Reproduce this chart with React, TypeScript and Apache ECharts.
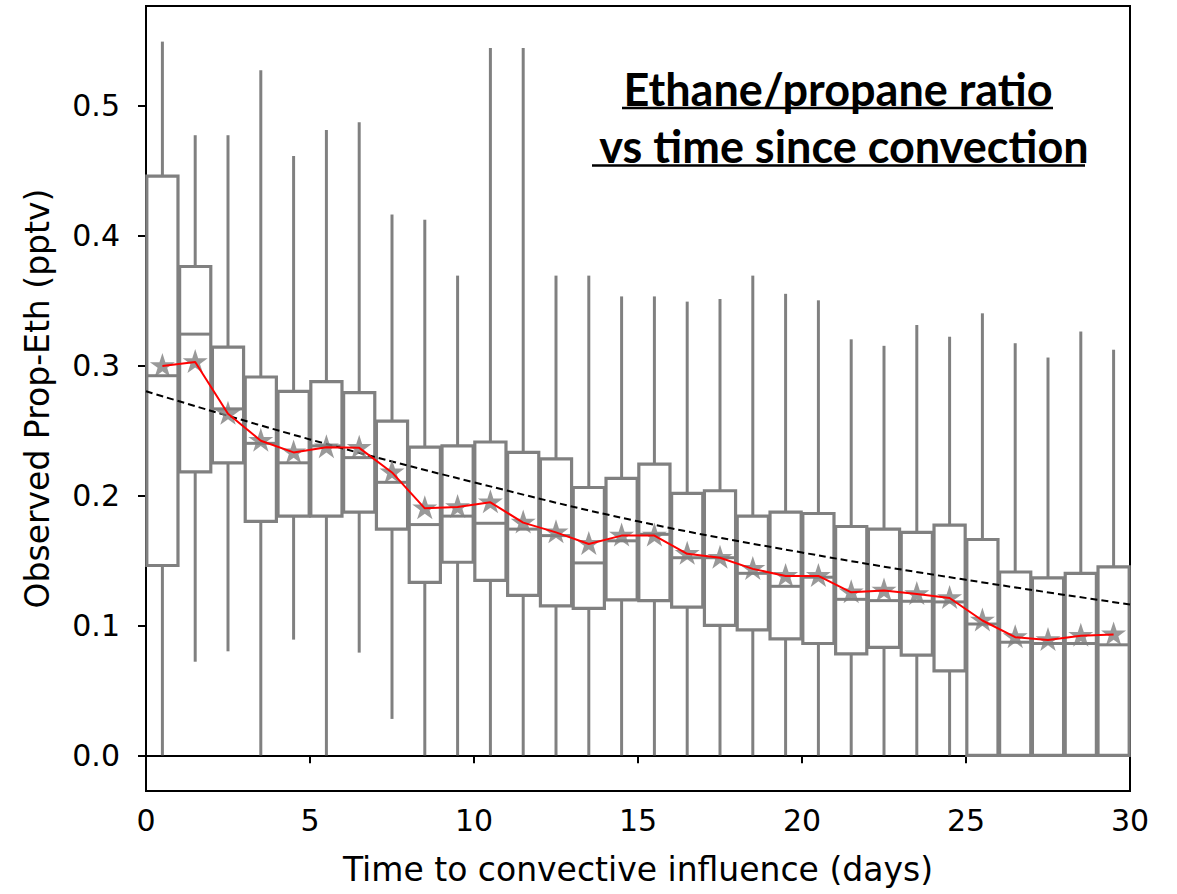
import React, { useEffect, useRef } from "react";
import * as echarts from "echarts";

// ---- data ----
const days = [0.5, 1.5, 2.5, 3.5, 4.5, 5.5, 6.5, 7.5, 8.5, 9.5, 10.5, 11.5, 12.5, 13.5, 14.5, 15.5, 16.5, 17.5, 18.5, 19.5, 20.5, 21.5, 22.5, 23.5, 24.5, 25.5, 26.5, 27.5, 28.5, 29.5];
const whiskerLow = [0, 0.072, 0.08, 0, 0.089, 0, 0.079, 0.028, 0, 0, 0, 0, 0, 0, 0, 0, 0, 0, 0, 0, 0, 0, 0, 0, 0, 0, 0, 0, 0, 0];
const q1 = [0.146, 0.218, 0.225, 0.18, 0.184, 0.184, 0.187, 0.174, 0.133, 0.1485, 0.1345, 0.123, 0.115, 0.113, 0.1195, 0.119, 0.114, 0.1, 0.0965, 0.0895, 0.086, 0.078, 0.083, 0.077, 0.065, 0, 0, 0, 0, 0];
const median = [0.292, 0.324, 0.2665, 0.24, 0.225, 0.238, 0.229, 0.21, 0.1775, 0.184, 0.1785, 0.174, 0.169, 0.148, 0.165, 0.17, 0.152, 0.152, 0.14, 0.13, 0.137, 0.12, 0.119, 0.1185, 0.118, 0.101, 0.087, 0.086, 0.086, 0.085];
const q3 = [0.4455, 0.376, 0.314, 0.291, 0.28, 0.2875, 0.279, 0.257, 0.237, 0.238, 0.241, 0.233, 0.228, 0.206, 0.213, 0.224, 0.2015, 0.2035, 0.184, 0.187, 0.186, 0.176, 0.174, 0.1715, 0.177, 0.166, 0.141, 0.1365, 0.14, 0.145];
const whiskerHigh = [0.549, 0.477, 0.477, 0.527, 0.461, 0.481, 0.487, 0.416, 0.412, 0.369, 0.544, 0.544, 0.369, 0.369, 0.353, 0.353, 0.349, 0.351, 0.369, 0.355, 0.35, 0.32, 0.315, 0.331, 0.322, 0.34, 0.317, 0.306, 0.326, 0.312];
const mean = [0.2995, 0.3025, 0.2627, 0.242, 0.233, 0.237, 0.2365, 0.2176, 0.19, 0.191, 0.1946, 0.179, 0.1715, 0.1626, 0.169, 0.169, 0.155, 0.152, 0.1434, 0.138, 0.138, 0.1254, 0.1267, 0.124, 0.121, 0.1037, 0.0909, 0.0887, 0.092, 0.093];
const fitDays = [0, 5, 10, 15, 20, 25, 30];
const fitValues = [0.28, 0.243, 0.21, 0.18, 0.156, 0.135, 0.116];
const yTicks = [0, 0.1, 0.2, 0.3, 0.4, 0.5];
const titleLine1 = "Ethane/propane ratio";
const titleLine2 = "vs time since convection";
const xName = "Time to convective influence (days)";
const yName = "Observed Prop-Eth (pptv)";

const GRAY = "#808080";
const BOX_W = 0.95;
const STAR = "path://M100,0 L122.45,69.1 L195.1,69.1 L136.3,111.8 L158.8,180.9 L100,138.2 L41.2,180.9 L63.7,111.8 L4.9,69.1 L77.55,69.1 Z";
const FONT = "DejaVu Sans";

export default function App() {
  const ref = useRef<HTMLDivElement>(null);
  useEffect(() => {
    if (!ref.current) return;
    const chart = echarts.init(ref.current, null, { renderer: "svg" });
    const boxData = days.map((d, i) => [d, whiskerLow[i], q1[i], median[i], q3[i], whiskerHigh[i]]);
    const meanData = days.map((d, i) => [d, mean[i]]);
    const fitData = fitDays.map((d, i) => [d, fitValues[i]]);
    const lineStyle = { stroke: GRAY, lineWidth: 3, fill: "none" };
    chart.setOption({
      animation: false,
      backgroundColor: "#ffffff",
      grid: { left: 146, right: 47, top: 6, bottom: 103, show: true, borderColor: "#000", borderWidth: 2, backgroundColor: "transparent" },
      xAxis: {
        type: "value", min: 0, max: 30, interval: 5,
        axisLine: { show: true, lineStyle: { color: "#000", width: 2 } },
        axisTick: { show: true, length: 8, lineStyle: { color: "#000", width: 2 } },
        axisLabel: { fontFamily: FONT, fontSize: 30, color: "#000", margin: 14 },
        splitLine: { show: false },
        name: xName, nameLocation: "middle", nameGap: 62,
        nameTextStyle: { fontFamily: FONT, fontSize: 33, color: "#000" },
      },
      yAxis: {
        type: "value", min: -0.02745, max: 0.5764,
        axisLine: { show: true, lineStyle: { color: "#000", width: 2 } },
        axisTick: { show: true, length: 8, lineStyle: { color: "#000", width: 2 }, customValues: yTicks },
        axisLabel: { fontFamily: FONT, fontSize: 30, color: "#000", margin: 26, customValues: yTicks, formatter: (v: number) => v.toFixed(1) },
        splitLine: { show: false },
        name: yName, nameLocation: "middle", nameGap: 92,
        nameTextStyle: { fontFamily: FONT, fontSize: 33, color: "#000" },
      },
      series: [
        {
          type: "custom",
          z: 2,
          data: boxData,
          encode: { x: 0, y: [1, 2, 3, 4, 5] },
          renderItem: (params: any, api: any) => {
            const x = api.value(0);
            const lo = api.coord([x, api.value(1)]);
            const b1 = api.coord([x, api.value(2)]);
            const md = api.coord([x, api.value(3)]);
            const b3 = api.coord([x, api.value(4)]);
            const hi = api.coord([x, api.value(5)]);
            const w = api.size([BOX_W, 0])[0];
            const children: any[] = [
              { type: "line", shape: { x1: hi[0], y1: hi[1], x2: b3[0], y2: b3[1] }, style: lineStyle },
              { type: "line", shape: { x1: b1[0], y1: b1[1], x2: lo[0], y2: lo[1] }, style: lineStyle },
              { type: "rect", shape: { x: b3[0] - w / 2, y: b3[1], width: w, height: b1[1] - b3[1] }, style: { stroke: GRAY, lineWidth: 3.2, fill: "#ffffff" } },
              { type: "line", shape: { x1: md[0] - w / 2, y1: md[1], x2: md[0] + w / 2, y2: md[1] }, style: lineStyle },
            ];
            return { type: "group", children };
          },
        },
        {
          type: "line",
          z: 3,
          data: fitData,
          smooth: 0.4,
          symbol: "none",
          lineStyle: { color: "#000", width: 2, type: [7, 4] },
        },
        {
          type: "scatter",
          z: 4,
          data: meanData,
          symbol: STAR,
          symbolSize: [25, 24],
          symbolOffset: [0, -1],
          itemStyle: { color: GRAY },
        },
        {
          type: "line",
          z: 5,
          data: meanData,
          symbol: "none",
          lineStyle: { color: "#ff0000", width: 2 },
        },
      ],
      graphic: [
        { type: "text", x: 838, y: 89, z: 10, style: { text: titleLine1, font: "bold 45px Lato", fill: "#000", align: "center", verticalAlign: "middle" } },
        { type: "text", x: 844, y: 146, z: 10, style: { text: titleLine2, font: "bold 45px Lato", fill: "#000", align: "center", verticalAlign: "middle" } },
        { type: "line", z: 10, shape: { x1: 622, y1: 108, x2: 1053, y2: 108 }, style: { stroke: "#000", lineWidth: 2.5 } },
        { type: "line", z: 10, shape: { x1: 592, y1: 165.5, x2: 1085, y2: 165.5 }, style: { stroke: "#000", lineWidth: 2.5 } },
      ],
    });
    return () => chart.dispose();
  }, []);
  return <div ref={ref} style={{ position: "fixed", left: 0, top: 0, width: 1177, height: 894 }} />;
}
